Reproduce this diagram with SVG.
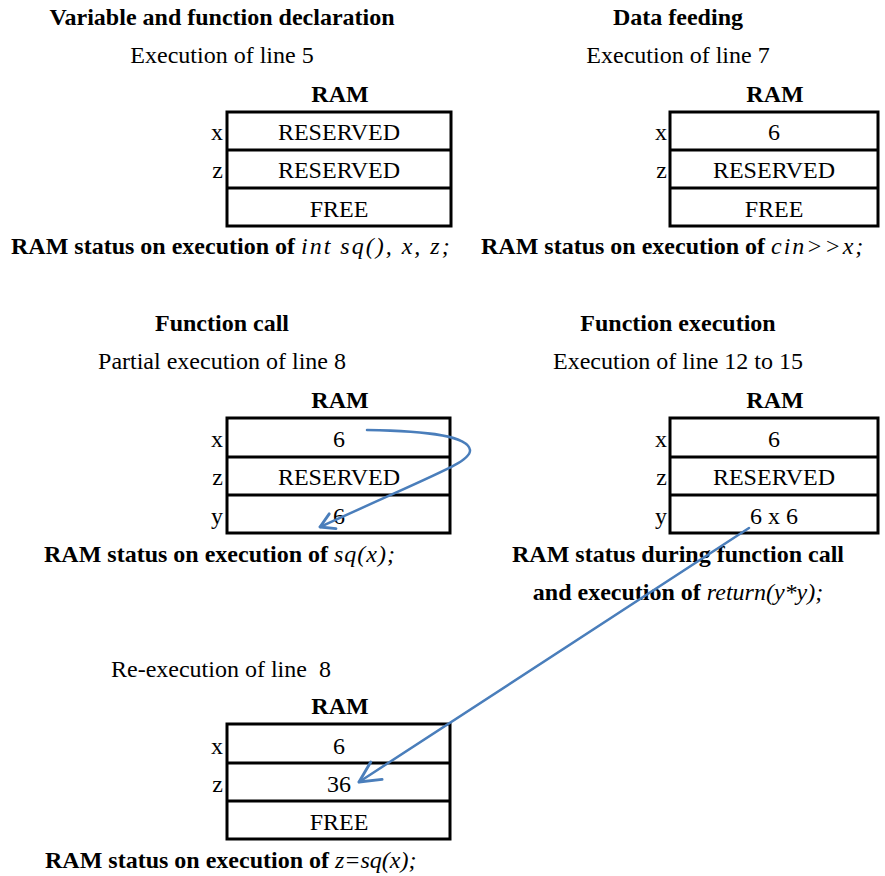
<svg xmlns="http://www.w3.org/2000/svg" width="885" height="876" viewBox="0 0 885 876">
<style>
text{font-family:"Liberation Serif","Times New Roman",serif;font-size:24px;fill:#000}
.b{font-weight:bold}
.i{font-style:italic;font-weight:normal}
.sp{letter-spacing:2px}
.c{text-anchor:middle}
.e{text-anchor:end}
.box{fill:#fff;stroke:#000;stroke-width:3}
.div{stroke:#000;stroke-width:3}
.arr{fill:none;stroke:#4A7EBB;stroke-width:2.5;stroke-linecap:round}
</style>
<defs>
<marker id="ah" markerUnits="userSpaceOnUse" markerWidth="30" markerHeight="30" viewBox="-22 -12 26 24" refX="0" refY="0" orient="auto">
<path d="M-18,-9 L0,0 L-18,9" fill="none" stroke="#4A7EBB" stroke-width="2.5" stroke-linecap="round" stroke-linejoin="round"/>
</marker>
<marker id="ahs" markerUnits="userSpaceOnUse" markerWidth="30" markerHeight="30" viewBox="-22 -12 26 24" refX="0" refY="0" orient="auto">
<path d="M-12,-7 L0,0 L-12,7" fill="none" stroke="#4A7EBB" stroke-width="2.5" stroke-linecap="round" stroke-linejoin="round"/>
</marker>
</defs>

<g id="panel1">
<text class="b c" x="222" y="25">Variable and function declaration</text>
<text class="c" x="222" y="63">Execution of line 5</text>
<text class="b c" x="340" y="102">RAM</text>
<rect class="box" x="227" y="112" width="224" height="114"/>
<line class="div" x1="227" y1="150" x2="451" y2="150"/>
<line class="div" x1="227" y1="188" x2="451" y2="188"/>
<text class="c" x="339" y="140">RESERVED</text>
<text class="c" x="339" y="178">RESERVED</text>
<text class="c" x="339" y="217">FREE</text>
<text class="e" x="223" y="140">x</text>
<text class="e" x="223" y="178">z</text>
<text class="b" x="11" y="254">RAM status on execution of <tspan class="i sp">int sq(), x, z;</tspan></text>
</g>

<g id="panel2">
<text class="b c" x="678" y="25">Data feeding</text>
<text class="c" x="678" y="63">Execution of line 7</text>
<text class="b c" x="775" y="102">RAM</text>
<rect class="box" x="670" y="112" width="208" height="114"/>
<line class="div" x1="670" y1="150" x2="878" y2="150"/>
<line class="div" x1="670" y1="188" x2="878" y2="188"/>
<text class="c" x="774" y="140">6</text>
<text class="c" x="774" y="178">RESERVED</text>
<text class="c" x="774" y="217">FREE</text>
<text class="e" x="667" y="140">x</text>
<text class="e" x="667" y="178">z</text>
<text class="b" x="481" y="254">RAM status on execution of <tspan class="i sp">cin&gt;&gt;x;</tspan></text>
</g>

<g id="panel3">
<text class="b c" x="222" y="331">Function call</text>
<text class="c" x="222" y="369">Partial execution of line 8</text>
<text class="b c" x="340" y="408">RAM</text>
<rect class="box" x="227" y="418" width="223" height="115"/>
<line class="div" x1="227" y1="457" x2="450" y2="457"/>
<line class="div" x1="227" y1="495" x2="450" y2="495"/>
<text class="c" x="339" y="447">6</text>
<text class="c" x="339" y="485">RESERVED</text>
<text class="c" x="339" y="524">6</text>
<text class="e" x="223" y="447">x</text>
<text class="e" x="223" y="485">z</text>
<text class="e" x="223" y="524">y</text>
<text class="b" x="44" y="562">RAM status on execution of <tspan class="i" style="letter-spacing:1px">sq(x);</tspan></text>
</g>

<g id="panel4">
<text class="b c" x="678" y="331">Function execution</text>
<text class="c" x="678" y="369">Execution of line 12 to 15</text>
<text class="b c" x="775" y="408">RAM</text>
<rect class="box" x="670" y="418" width="208" height="115"/>
<line class="div" x1="670" y1="457" x2="878" y2="457"/>
<line class="div" x1="670" y1="495" x2="878" y2="495"/>
<text class="c" x="774" y="447">6</text>
<text class="c" x="774" y="485">RESERVED</text>
<text class="c" x="774" y="524">6 x 6</text>
<text class="e" x="667" y="447">x</text>
<text class="e" x="667" y="485">z</text>
<text class="e" x="667" y="524">y</text>
<text class="b c" x="678" y="562">RAM status during function call</text>
<text class="b c" x="678" y="600">and execution of <tspan class="i">return(y*y);</tspan></text>
</g>

<g id="panel5">
<text x="111" y="677" style="white-space:pre">Re-execution of line  8</text>
<text class="b c" x="340" y="714">RAM</text>
<rect class="box" x="227" y="724" width="223" height="115"/>
<line class="div" x1="227" y1="763" x2="450" y2="763"/>
<line class="div" x1="227" y1="801" x2="450" y2="801"/>
<text class="c" x="339" y="754">6</text>
<text class="c" x="339" y="792">36</text>
<text class="c" x="339" y="830">FREE</text>
<text class="e" x="223" y="754">x</text>
<text class="e" x="223" y="792">z</text>
<text class="b" x="45" y="868">RAM status on execution of <tspan class="i">z=sq(x);</tspan></text>
</g>

<g id="connectors">
<path class="arr" d="M367,430 C430,431 468,436 470,450 C471,462 440,472 320,527" marker-end="url(#ahs)"/>
<path class="arr" d="M749,528 L359,782" marker-end="url(#ah)"/>
</g>
</svg>
